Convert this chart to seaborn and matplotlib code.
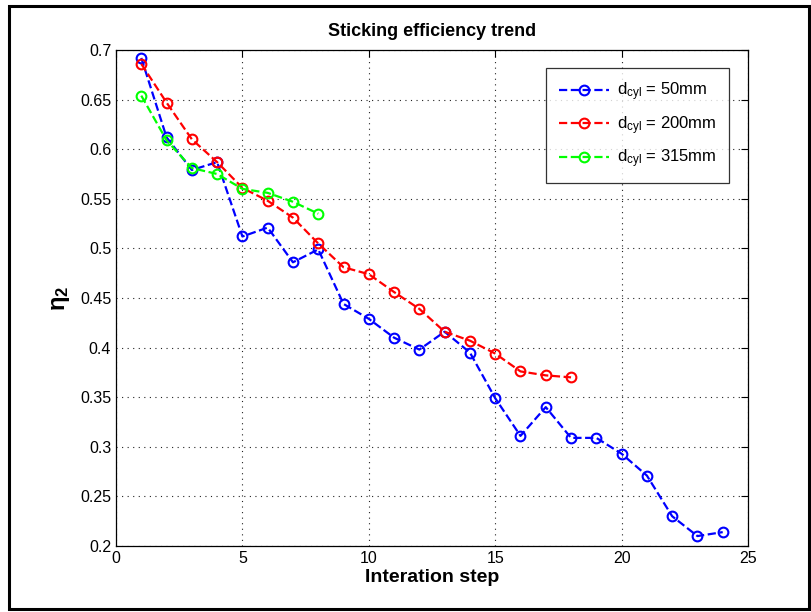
import matplotlib
matplotlib.use('Agg')
import matplotlib.pyplot as plt
import seaborn as sns
import pandas as pd
from matplotlib.patches import Rectangle

# data
steps_50 = list(range(1, 25))
eta_50 = [0.692, 0.612, 0.579, 0.587, 0.512, 0.521, 0.486, 0.499, 0.444, 0.429,
          0.410, 0.398, 0.416, 0.395, 0.349, 0.311, 0.340, 0.309, 0.309, 0.293,
          0.271, 0.230, 0.210, 0.214]
steps_200 = list(range(1, 19))
eta_200 = [0.686, 0.647, 0.610, 0.587, 0.561, 0.548, 0.531, 0.505, 0.481, 0.474,
           0.456, 0.439, 0.416, 0.407, 0.394, 0.376, 0.372, 0.370]
steps_315 = list(range(1, 9))
eta_315 = [0.654, 0.609, 0.581, 0.575, 0.560, 0.556, 0.547, 0.535]

labels = [r'd$_{\mathrm{cyl}}$ = 50mm', r'd$_{\mathrm{cyl}}$ = 200mm', r'd$_{\mathrm{cyl}}$ = 315mm']
colors = ['#0000ff', '#ff0000', '#00ff00']

sns.set_style('white')
plt.rcParams['font.family'] = ['Liberation Sans', 'DejaVu Sans']
plt.rcParams['mathtext.fontset'] = 'custom'
plt.rcParams['mathtext.rm'] = 'Liberation Sans'
plt.rcParams['mathtext.it'] = 'Liberation Sans:italic'
plt.rcParams['mathtext.bf'] = 'Liberation Sans:bold'
plt.rcParams['text.color'] = 'black'

fig = plt.figure(figsize=(8.12, 6.12), dpi=100)
ax = fig.add_axes([116 / 812, 1 - 546 / 612, 632 / 812, 496 / 612])

series = [(steps_50, eta_50), (steps_200, eta_200), (steps_315, eta_315)]
for (x, y), lab, c in zip(series, labels, colors):
    df = pd.DataFrame({'step': x, 'eta': y})
    sns.lineplot(data=df, x='step', y='eta', ax=ax, color=c, label=lab,
                 linestyle='--', dashes=(5, 3), linewidth=1.6, marker='o',
                 markersize=7, markerfacecolor='none', markeredgecolor=c,
                 markeredgewidth=1.5)

ax.set_xlim(0, 25)
ax.set_ylim(0.2, 0.7)
ax.set_xticks([0, 5, 10, 15, 20, 25])
ax.set_yticks([0.2, 0.25, 0.3, 0.35, 0.4, 0.45, 0.5, 0.55, 0.6, 0.65, 0.7])
ax.set_yticklabels(['0.2', '0.25', '0.3', '0.35', '0.4', '0.45', '0.5', '0.55', '0.6', '0.65', '0.7'])
ax.tick_params(direction='in', top=True, right=True, labelsize=11.5, length=5,
               colors='black', width=0.8)
ax.grid(True, linestyle=(0, (1, 4)), color='#222222', linewidth=0.8)
for s in ax.spines.values():
    s.set_color('black')
    s.set_linewidth(0.9)

ax.set_xlabel('Interation step', fontsize=14, fontweight='bold', labelpad=2, color='black')
ax.set_ylabel(r'η$_\mathbf{2}$', fontsize=17, fontweight='bold', labelpad=6, color='black')
ax.set_title('Sticking efficiency trend', fontsize=13, fontweight='bold', pad=10, color='black')

leg = ax.legend(loc='upper right', fontsize=12, frameon=True, fancybox=False,
                edgecolor='black', borderpad=0.75, labelspacing=0.65,
                handlelength=3.0, handletextpad=0.5,
                bbox_to_anchor=(0.983, 0.98))
leg.get_frame().set_linewidth(0.9)
for t in leg.get_texts():
    t.set_color('black')

# outer frame around the image
fig.patches.append(Rectangle((9 / 812, 3 / 612), 800 / 812, 603 / 612,
                             transform=fig.transFigure, fill=False,
                             edgecolor='black', linewidth=2.2))

fig.savefig('out.png', dpi=100)
